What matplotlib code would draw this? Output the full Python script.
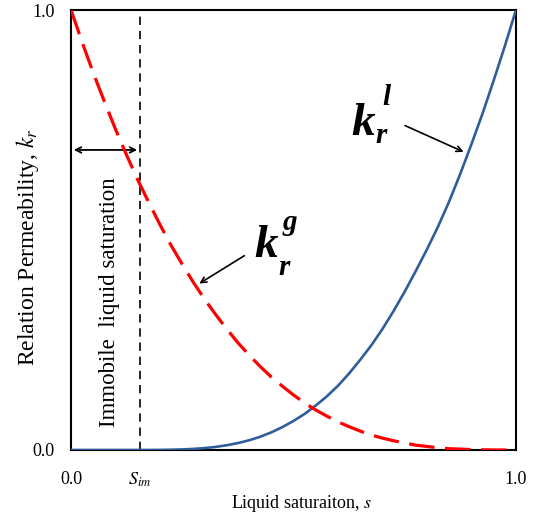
import matplotlib
matplotlib.use('Agg')
import matplotlib.pyplot as plt

plt.rcParams['font.family'] = ['Liberation Serif', 'DejaVu Serif']
plt.rcParams['mathtext.fontset'] = 'stix'

# liquid saturation sample points
s = [0.0, 0.025, 0.05, 0.075, 0.1, 0.125, 0.15, 0.175, 0.2, 0.225,
     0.25, 0.275, 0.3, 0.325, 0.35, 0.375, 0.4, 0.425, 0.45, 0.475,
     0.5, 0.525, 0.55, 0.575, 0.6, 0.625, 0.65, 0.675, 0.7, 0.725,
     0.75, 0.775, 0.8, 0.825, 0.85, 0.875, 0.9, 0.925, 0.95, 0.975, 1.0]
# liquid relative permeability k_r^l
kr_l = [0.0, 0.0, 0.0, 0.0, 0.0, 0.0, 0.0, 0.0, 0.0002, 0.0006,
        0.0013, 0.0025, 0.0043, 0.007, 0.0108, 0.0157, 0.022, 0.030, 0.040, 0.052,
        0.066, 0.082, 0.101, 0.122, 0.146, 0.174, 0.205, 0.238, 0.275, 0.316,
        0.36, 0.407, 0.456, 0.508, 0.565, 0.628, 0.695, 0.765, 0.84, 0.918, 1.0]
# gas relative permeability k_r^g
kr_g = [1.0, 0.927, 0.857, 0.792, 0.729, 0.670, 0.614, 0.562, 0.512, 0.465,
        0.422, 0.381, 0.343, 0.308, 0.275, 0.244, 0.216, 0.190, 0.166, 0.145,
        0.125, 0.107, 0.091, 0.077, 0.064, 0.053, 0.043, 0.034, 0.027, 0.021,
        0.016, 0.011, 0.008, 0.005, 0.003, 0.002, 0.001, 0.0004, 0.0001, 0.0, 0.0]
s_im = 0.155
arrow_y = 0.682

fig = plt.figure(figsize=(5.38, 5.17), dpi=100)
ax = fig.add_axes([0.132, 0.1296, 0.827, 0.851])

ax.plot(s, kr_l, color='#2f5d9c', lw=1.9, zorder=3)
ax.plot(s, kr_g, color='#ff0000', lw=2.3, dashes=(8, 3.3), zorder=4)
ax.axvline(s_im, color='black', lw=1.2, dashes=(5, 3.5))

ax.set_xlim(0, 1)
ax.set_ylim(0, 1)
ax.set_xticks([0, s_im, 1])
ax.set_xticklabels(['0.0', '$S_{im}$', '1.0'])
ax.set_yticks([0, 1])
ax.set_yticklabels(['0.0', '1.0'])
ax.tick_params(length=0, labelsize=13)
ax.tick_params(axis='x', pad=15)
ax.tick_params(axis='y', pad=12)
for sp in ax.spines.values():
    sp.set_linewidth(1.5)

ax.set_xlabel('Liquid saturaiton, $s$', fontsize=13)
ax.xaxis.set_label_coords(0.517, -0.098)
ax.set_ylabel('Relation Permeability, $k_r$', fontsize=17)
ax.yaxis.set_label_coords(-0.068, 0.46)

# immobile saturation marker
ax.annotate('', xy=(0, arrow_y), xytext=(s_im, arrow_y),
            arrowprops=dict(arrowstyle='<->', color='black', lw=1.3))
ax.text(0.086, 0.336, 'Immobile  liquid saturation', rotation=90, fontsize=16.5,
        ha='center', va='center')

# curve labels
big = dict(family='Liberation Serif', weight='bold', style='italic', va='baseline')
ax.annotate('', xy=(0.283, 0.375), xytext=(0.395, 0.445),
            arrowprops=dict(arrowstyle='->', color='black', lw=1.2))
ax.text(0.413, 0.439, 'k', fontsize=34, **big)
ax.text(0.466, 0.398, 'r', fontsize=21, **big)
ax.text(0.476, 0.50, 'g', fontsize=21, **big)

ax.annotate('', xy=(0.888, 0.675), xytext=(0.745, 0.74),
            arrowprops=dict(arrowstyle='->', color='black', lw=1.2))
ax.text(0.629, 0.716, 'k', fontsize=34, **big)
ax.text(0.684, 0.698, 'r', fontsize=21, **big)
ax.text(0.699, 0.784, 'l', fontsize=21, **big)

fig.savefig('out.png', dpi=100)
